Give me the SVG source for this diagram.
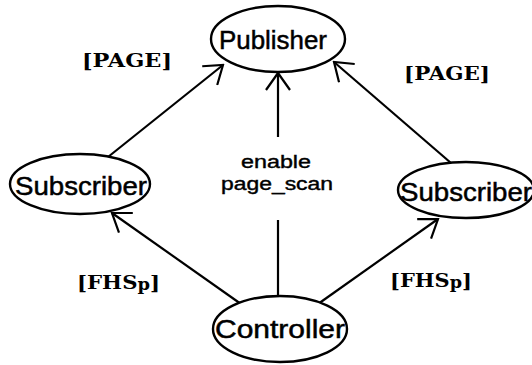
<svg xmlns="http://www.w3.org/2000/svg" width="532" height="365" viewBox="0 0 532 365">
  <defs>
    <marker id="arrow" viewBox="0 0 22 26" refX="20" refY="13" markerWidth="22" markerHeight="26" markerUnits="userSpaceOnUse" orient="auto">
      <path d="M3,1 L20,13 L3,25" fill="none" stroke="#000" stroke-width="2.2"/>
    </marker>
  </defs>
  <style>
    .node ellipse { fill: #fff; stroke: #000; stroke-width: 2.4; }
    .node text { font-family: "Liberation Sans", Arial, sans-serif; font-size: 26px; fill: #000; stroke: #000; stroke-width: 0.5; text-anchor: middle; }
    .edge { stroke: #000; stroke-width: 2.2; fill: none; }
    .arrow { marker-end: url(#arrow); }
    .lbl { font-family: "DejaVu Serif", "Liberation Serif", serif; font-weight: bold; font-size: 19px; fill: #000; }
    .mid { font-family: "Liberation Sans", Arial, sans-serif; font-size: 18px; fill: #000; stroke: #000; stroke-width: 0.4; text-anchor: middle; }
  </style>
  <rect width="532" height="365" fill="#fff"/>

  <g id="connectors">
    <line class="edge arrow" x1="108" y1="157" x2="223" y2="65"/>
    <line class="edge arrow" x1="451" y1="163" x2="334" y2="62"/>
    <line class="edge arrow" x1="278" y1="137" x2="278" y2="73"/>
    <line class="edge" x1="278" y1="296" x2="278" y2="220"/>
    <line class="edge arrow" x1="241" y1="304" x2="112" y2="213"/>
    <line class="edge arrow" x1="318" y1="304" x2="438" y2="219"/>
  </g>

  <g id="publisher" class="node">
    <ellipse cx="278" cy="39" rx="67" ry="33"/>
    <text x="273" y="49" textLength="108" lengthAdjust="spacingAndGlyphs">Publisher</text>
  </g>
  <g id="subscriber-left" class="node">
    <ellipse cx="80" cy="184" rx="70" ry="30"/>
    <text x="81" y="195" textLength="132" lengthAdjust="spacingAndGlyphs">Subscriber</text>
  </g>
  <g id="subscriber-right" class="node">
    <ellipse cx="466" cy="190" rx="68" ry="28"/>
    <text x="466" y="201" textLength="132" lengthAdjust="spacingAndGlyphs">Subscriber</text>
  </g>
  <g id="controller" class="node">
    <ellipse cx="280" cy="329" rx="67" ry="33"/>
    <text x="280" y="338" textLength="130" lengthAdjust="spacingAndGlyphs">Controller</text>
  </g>

  <g id="labels">
    <text class="lbl" x="82" y="67" textLength="90" lengthAdjust="spacingAndGlyphs">[PAGE]</text>
    <text class="lbl" x="404" y="80" textLength="86" lengthAdjust="spacingAndGlyphs">[PAGE]</text>
    <text class="mid" x="276" y="168" textLength="70" lengthAdjust="spacingAndGlyphs">enable</text>
    <text class="mid" x="277" y="190" textLength="112" lengthAdjust="spacingAndGlyphs">page_scan</text>
    <text class="lbl" x="77" y="289" textLength="83" lengthAdjust="spacingAndGlyphs">[FHS<tspan font-size="16" dy="1">p</tspan><tspan dy="-1">]</tspan></text>
    <text class="lbl" x="390" y="287" textLength="82" lengthAdjust="spacingAndGlyphs">[FHS<tspan font-size="16" dy="1">p</tspan><tspan dy="-1">]</tspan></text>
  </g>
</svg>
